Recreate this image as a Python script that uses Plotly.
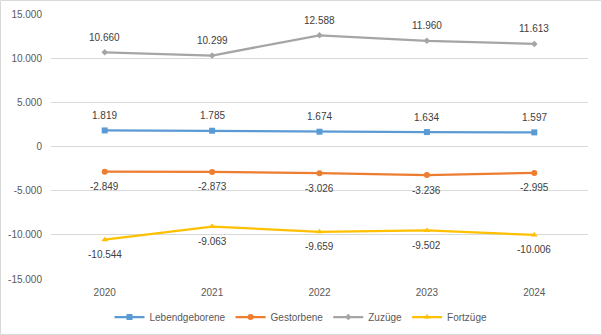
import plotly.graph_objects as go

years = ["2020", "2021", "2022", "2023", "2024"]
lebendgeborene = [1819, 1785, 1674, 1634, 1597]
gestorbene = [-2849, -2873, -3026, -3236, -2995]
zuzuege = [10660, 10299, 12588, 11960, 11613]
fortzuege = [-10544, -9063, -9659, -9502, -10006]
ytick_vals = [-15000, -10000, -5000, 0, 5000, 10000, 15000]
ytick_text = ["-15.000", "-10.000", "-5.000", "0", "5.000", "10.000", "15.000"]

def de(v):
    return f"{v:,}".replace(",", ".")

series = [
    ("Lebendgeborene", lebendgeborene, "#5B9BD5", "square", 6, 15),
    ("Gestorbene", gestorbene, "#ED7D31", "circle", 6, -15),
    ("Zuzüge", zuzuege, "#A5A5A5", "diamond", 5, 15),
    ("Fortzüge", fortzuege, "#FFC000", "triangle-up", 6, -15),
]

fig = go.Figure()
annotations = []
for name, vals, col, sym, ms, shift in series:
    fig.add_trace(go.Scatter(
        x=years, y=vals, name=name, mode="lines+markers",
        line=dict(color=col, width=2.25),
        marker=dict(symbol=sym, size=ms, color=col),
        cliponaxis=False,
    ))
    for i, v in enumerate(vals):
        annotations.append(dict(x=i, y=v, xref="x", yref="y", text=de(v),
                                showarrow=False, yshift=shift,
                                font=dict(size=10, color="#404040", family="Liberation Sans")))

L, R, T, B = 51, 14, 14, 56
W, H = 602, 335
pw, ph = W - L - R, H - T - B

fig.update_layout(
    width=W, height=H,
    margin=dict(l=L, r=R, t=T, b=B, autoexpand=False),
    paper_bgcolor="white", plot_bgcolor="white",
    font=dict(family="Liberation Sans", size=10, color="#595959"),
    showlegend=True,
    legend=dict(orientation="h", xref="container", yref="container",
                x=0.5, xanchor="center", y=18 / H, yanchor="middle",
                font=dict(size=10, color="#595959"), tracegroupgap=0),
    xaxis=dict(type="category", range=[-0.5, 4.5], showgrid=False, showline=False,
               ticks="", automargin=False, ticklabelstandoff=6,
               tickfont=dict(size=10, color="#595959")),
    yaxis=dict(range=[-15000, 15000], tickvals=ytick_vals, ticktext=ytick_text,
               showgrid=True, gridcolor="#D9D9D9", gridwidth=1, zeroline=False,
               showline=False, ticks="", automargin=False, ticklabelstandoff=8,
               tickfont=dict(size=10, color="#595959")),
    annotations=annotations,
    shapes=[dict(type="rect", xref="paper", yref="paper",
                 x0=(-L + 0.5) / pw, x1=(W - L - 0.5) / pw,
                 y0=(-B + 0.5) / ph, y1=(H - B - 0.5) / ph,
                 line=dict(color="#D9D9D9", width=1), layer="below")],
)

fig.write_html("out.html")
